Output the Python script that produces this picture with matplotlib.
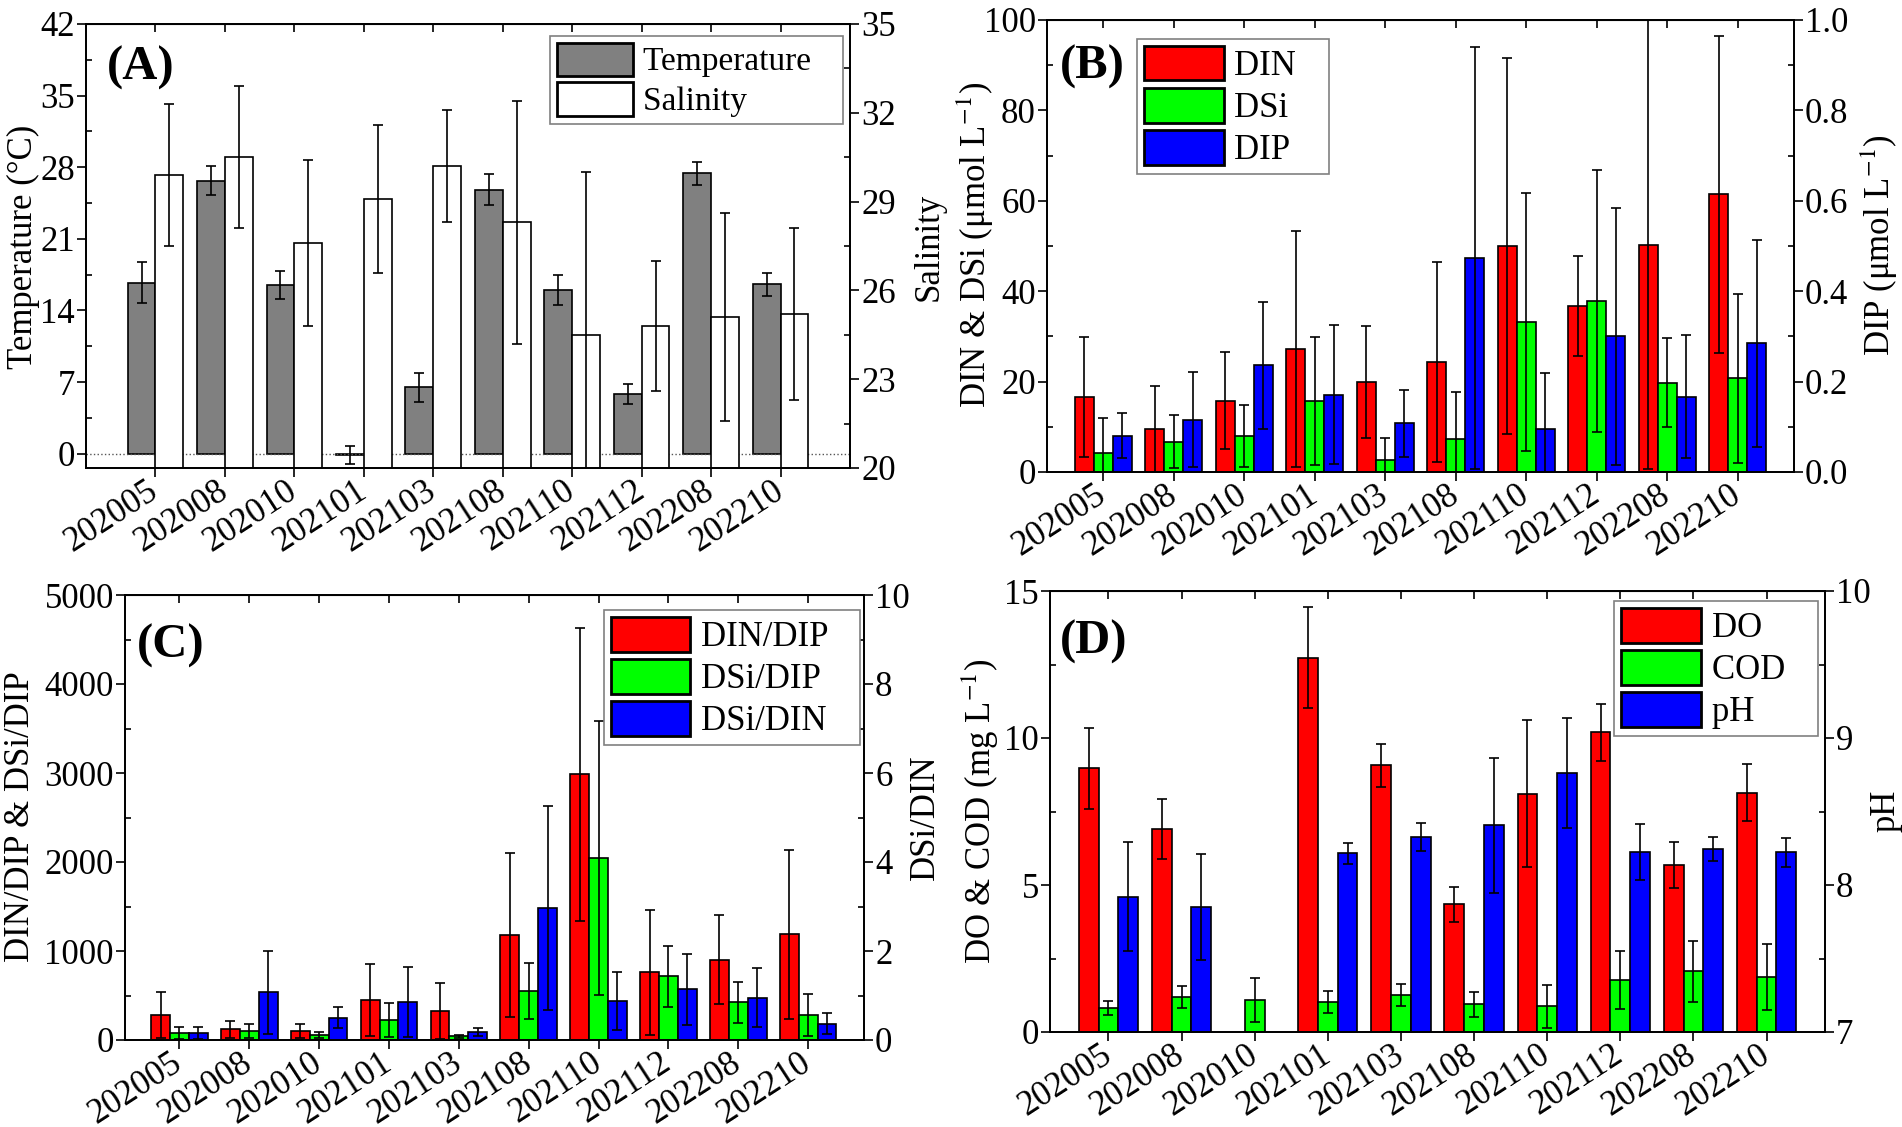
import numpy as np
import matplotlib
matplotlib.use("Agg")
import matplotlib.pyplot as plt
from matplotlib.ticker import MultipleLocator, FormatStrFormatter
from matplotlib.patches import Patch

plt.rcParams['font.family'] = ['Liberation Serif', 'DejaVu Serif']
plt.rcParams['mathtext.fontset'] = 'stix'

months = ["202005", "202008", "202010", "202101", "202103",
          "202108", "202110", "202112", "202208", "202210"]

# (A) temperature and salinity
temp = [16.7, 26.7, 16.5, -0.15, 6.5, 25.8, 16.0, 5.85, 27.4, 16.55]
temp_err = [2.0, 1.4, 1.35, 0.9, 1.4, 1.5, 1.45, 1.0, 1.1, 1.1]
sal = [29.9, 30.5, 27.6, 29.1, 30.2, 28.3, 24.5, 24.8, 25.1, 25.2]
sal_err = [2.4, 2.4, 2.8, 2.5, 1.9, 4.1, 5.5, 2.2, 3.5, 2.9]

# (B) nutrients
din = [16.6, 9.5, 15.8, 27.2, 20.0, 24.3, 50.0, 36.7, 50.3, 61.4]
din_err = [13.3, 9.5, 10.8, 26.2, 12.4, 22.1, 41.7, 11.1, 49.7, 35.0]
dsi = [4.3, 6.7, 8.0, 15.7, 2.6, 7.4, 33.2, 37.8, 19.8, 20.7]
dsi_err = [7.6, 5.9, 6.8, 14.2, 4.9, 10.4, 28.5, 29.0, 9.9, 18.7]
dip = [0.080, 0.116, 0.236, 0.171, 0.108, 0.474, 0.095, 0.300, 0.167, 0.285]
dip_err = [0.050, 0.105, 0.140, 0.154, 0.074, 0.467, 0.123, 0.284, 0.135, 0.229]

# (C) nutrient ratios
din_dip = [285, 118, 98, 452, 326, 1181, 2985, 761, 904, 1189]
din_dip_err = [257, 98, 77, 407, 310, 918, 1645, 705, 501, 950]
dsi_dip = [77, 98, 53, 228, 41, 550, 2048, 717, 424, 285]
dsi_dip_err = [70, 81, 33, 189, 20, 313, 1537, 344, 232, 236]
dsi_din = [0.16, 1.07, 0.50, 0.85, 0.19, 2.96, 0.88, 1.14, 0.95, 0.37]
dsi_din_err = [0.13, 0.94, 0.24, 0.79, 0.09, 2.29, 0.65, 0.80, 0.66, 0.24]

# (D) DO, COD, pH
do = [8.97, 6.89, np.nan, 12.73, 9.07, 4.34, 8.11, 10.19, 5.69, 8.14]
do_err = [1.37, 1.02, np.nan, 1.72, 0.72, 0.59, 2.5, 0.97, 0.78, 0.97]
cod = [0.82, 1.18, 1.09, 1.02, 1.26, 0.94, 0.87, 1.77, 2.06, 1.88]
cod_err = [0.24, 0.38, 0.74, 0.39, 0.36, 0.43, 0.73, 0.98, 1.05, 1.12]
ph = [7.92, 7.85, np.nan, 8.215, 8.324, 8.406, 8.763, 8.227, 8.245, 8.222]
ph_err = [0.37, 0.36, np.nan, 0.073, 0.095, 0.46, 0.376, 0.19, 0.08, 0.10]

x = np.arange(len(months))
FS = 25
ekw = dict(ecolor='black', elinewidth=1.2, capsize=3.5, capthick=1.2)
bkw = dict(edgecolor='black', linewidth=1.2)
W, H = 1902, 1127

fig = plt.figure(figsize=(19.02, 11.27), dpi=100)


def style(ax, axr, xlim, lmaj, lmin, rmaj, rmin):
    ax.set_xlim(*xlim)
    ax.set_xticks(x)
    ax.set_xticklabels(months, rotation=33, ha='right', va='center',
                       rotation_mode='anchor', fontsize=19)
    for a, mj, mn in ((ax, lmaj, lmin), (axr, rmaj, rmin)):
        a.yaxis.set_major_locator(MultipleLocator(*mj))
        a.yaxis.set_minor_locator(MultipleLocator(*mn))
        a.tick_params(which='major', direction='out', length=6.5, width=1.2,
                      labelsize=FS, pad=1.5)
        a.tick_params(which='minor', direction='in', length=4, width=1.2)
        for s in a.spines.values():
            s.set_linewidth(1.3)
    ax.tick_params(axis='x', which='major', direction='out', length=6.5, pad=8)
    top = ax.secondary_xaxis('top')
    top.set_xticks(x)
    top.set_xticklabels([])
    top.tick_params(direction='in', length=5.5, width=1.2)


def legend(ax, colors, labels, anchor, loc, fs):
    handles = [Patch(facecolor=c, edgecolor='black', linewidth=2) for c in colors]
    leg = ax.legend(handles, [l + "   " for l in labels], loc=loc, bbox_to_anchor=anchor,
                    fontsize=fs, frameon=True, fancybox=False, edgecolor='gray',
                    framealpha=1, handlelength=2.3, handleheight=1.15, labelspacing=0.15,
                    handletextpad=0.3, borderpad=0.2, borderaxespad=0)
    leg.get_frame().set_linewidth(1.2)


def ylabels(left, right, lx, rx, yc):
    fig.text(lx / W, 1 - yc / H, left, rotation=90, ha='center', va='center', fontsize=FS)
    fig.text(rx / W, 1 - yc / H, right, rotation=90, ha='center', va='center', fontsize=FS)


def panel_tag(ax, tag, px, py):
    ax.text(px, py, tag, transform=ax.transAxes, fontsize=35,
            fontweight='bold', va='top', ha='left')


# ---------- (A) ----------
axA = fig.add_axes([86 / W, 1 - 468 / H, 764 / W, 444 / H])
axA2 = axA.twinx()
axA.bar(x - 0.2, temp, 0.4, color='#808080', **bkw)
axA.errorbar(x - 0.2, temp, yerr=temp_err, fmt='none', **ekw)
axA.axhline(0, color='#555555', ls=':', lw=1)
axA2.bar(x + 0.2, np.array(sal) - 20, 0.4, bottom=20, color='white', **bkw)
axA2.errorbar(x + 0.2, sal, yerr=sal_err, fmt='none', **ekw)
axA.set_ylim(-1.4, 42)
axA2.set_ylim(20, 35)
style(axA, axA2, (-1, 10), (7,), (3.5,), (3, 2), (1.5, 0.5))
ylabels("Temperature (°C)", "Salinity", 23, 929, 247)
legend(axA2, ('#808080', 'white'), ["Temperature", "Salinity"],
       (0.991, 0.973), 'upper right', 24)
panel_tag(axA, "(A)", 0.027, 0.95)

# ---------- (B) ----------
w = 0.27
axB = fig.add_axes([1047 / W, 1 - 472 / H, 747 / W, 452 / H])
axB2 = axB.twinx()
axB.bar(x - w, din, w, color='#FF0000', **bkw)
axB.errorbar(x - w, din, yerr=din_err, fmt='none', **ekw)
axB.bar(x, dsi, w, color='#00FF00', **bkw)
axB.errorbar(x, dsi, yerr=dsi_err, fmt='none', **ekw)
axB2.bar(x + w, dip, w, color='#0000FF', **bkw)
axB2.errorbar(x + w, dip, yerr=dip_err, fmt='none', **ekw)
axB.set_ylim(0, 100)
axB2.set_ylim(0, 1.0)
style(axB, axB2, (-0.8, 9.8), (20,), (10,), (0.2,), (0.1,))
axB2.yaxis.set_major_formatter(FormatStrFormatter('%.1f'))
ylabels(r"DIN & DSi (μmol L$^{-1}$)", r"DIP (μmol L$^{-1}$)", 975, 1879, 245)
legend(axB2, ('#FF0000', '#00FF00', '#0000FF'), ["DIN", "DSi", "DIP"],
       (0.1205, 0.958), 'upper left', 25)
panel_tag(axB, "(B)", 0.017, 0.945)

# ---------- (C) ----------
axC = fig.add_axes([125 / W, 1 - 1040 / H, 739 / W, 445 / H])
axC2 = axC.twinx()
axC.bar(x - w, din_dip, w, color='#FF0000', **bkw)
axC.errorbar(x - w, din_dip, yerr=din_dip_err, fmt='none', **ekw)
axC.bar(x, dsi_dip, w, color='#00FF00', **bkw)
axC.errorbar(x, dsi_dip, yerr=dsi_dip_err, fmt='none', **ekw)
axC2.bar(x + w, dsi_din, w, color='#0000FF', **bkw)
axC2.errorbar(x + w, dsi_din, yerr=dsi_din_err, fmt='none', **ekw)
axC.set_ylim(0, 5000)
axC2.set_ylim(0, 10)
style(axC, axC2, (-0.78, 9.8), (1000,), (500,), (2,), (1,))
ylabels("DIN/DIP & DSi/DIP", "DSi/DIN", 21, 925, 817)
legend(axC2, ('#FF0000', '#00FF00', '#0000FF'), ["DIN/DIP", "DSi/DIP", "DSi/DIN"],
       (0.995, 0.966), 'upper right', 25)
panel_tag(axC, "(C)", 0.016, 0.935)

# ---------- (D) ----------
axD = fig.add_axes([1050 / W, 1 - 1032 / H, 775 / W, 441 / H])
axD2 = axD.twinx()
axD.bar(x - w, do, w, color='#FF0000', **bkw)
axD.errorbar(x - w, do, yerr=do_err, fmt='none', **ekw)
axD.bar(x, cod, w, color='#00FF00', **bkw)
axD.errorbar(x, cod, yerr=cod_err, fmt='none', **ekw)
axD2.bar(x + w, np.array(ph) - 7, w, bottom=7, color='#0000FF', **bkw)
axD2.errorbar(x + w, ph, yerr=ph_err, fmt='none', **ekw)
axD.set_ylim(0, 15)
axD2.set_ylim(7, 10)
style(axD, axD2, (-0.8, 9.8), (5,), (2.5,), (1,), (0.5,))
ylabels(r"DO & COD (mg L$^{-1}$)", "pH", 980, 1886, 811)
legend(axD2, ('#FF0000', '#00FF00', '#0000FF'), ["DO", "COD", "pH"],
       (0.991, 0.977), 'upper right', 25)
panel_tag(axD, "(D)", 0.013, 0.935)

fig.savefig("out.png", dpi=100)
